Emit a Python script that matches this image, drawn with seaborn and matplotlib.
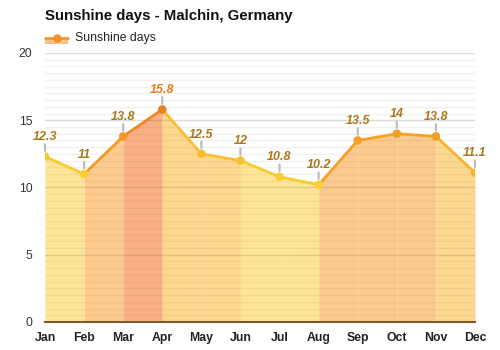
import matplotlib
matplotlib.use("Agg")
import matplotlib.pyplot as plt
from matplotlib.lines import Line2D
from matplotlib.patches import Rectangle
import numpy as np
import pandas as pd
import seaborn as sns

# Monthly sunshine days
months = ["Jan", "Feb", "Mar", "Apr", "May", "Jun",
          "Jul", "Aug", "Sep", "Oct", "Nov", "Dec"]
sunshine_days = [12.3, 11, 13.8, 15.8, 12.5, 12, 10.8, 10.2, 13.5, 14, 13.8, 11.1]
y_ticks = [0, 5, 10, 15, 20]

# colour classes (fill band between month i and i+1, line segment, point)
band_colors = ["#FEE596", "#FDCB8E", "#F9B085", "#FDD891", "#FDD891",
               "#FEE596", "#FEE596", "#FDCA8D", "#FDCA8D", "#FDCA8D", "#FDD891"]
seg_colors = ["#F8CB2E", "#F29B24", "#EE8523", "#FABD2F", "#FABF2F",
              "#F8CC2E", "#F8CC2E", "#F5A127", "#F5A127", "#F5A127", "#F8B42C"]
pt_colors = ["#F8C82E", "#F8D232", "#F09828", "#E97F1F", "#F9BC30", "#F9C230",
             "#F9CE31", "#F9D232", "#F3A026", "#F3A026", "#F3A026", "#F7B42D"]
label_colors = ["#A8781C"] * 12
label_colors[3] = "#E87B1C"

df = pd.DataFrame({"month": months, "idx": np.arange(len(months)),
                   "days": sunshine_days})

sns.set_style("white")
plt.rcParams["font.family"] = ["Liberation Sans", "DejaVu Sans"]

fig = plt.figure(figsize=(5, 3.5), dpi=100)
ax = fig.add_axes([0.09, 0.08, 0.86, 0.7686])

x = df["idx"].to_numpy()
y = df["days"].to_numpy()

# filled bands under each segment
for i in range(len(x) - 1):
    ax.fill_between(x[i:i + 2], 0, y[i:i + 2], color=band_colors[i],
                    lw=0, zorder=1)

# grid lines drawn over the fill
ax.set_ylim(0, 20)
ax.set_xlim(0, 11)
for v in np.arange(0.5, 20.01, 0.5):
    major = abs(v / 5 - round(v / 5)) < 1e-9
    ax.axhline(v, color=(0.45, 0.38, 0.25), alpha=0.22 if major else 0.08,
               lw=1.0, zorder=2)

# coloured line segments
for i in range(len(x) - 1):
    ax.plot(x[i:i + 2], y[i:i + 2], color=seg_colors[i], lw=2,
            solid_capstyle="round", zorder=3)

sns.scatterplot(data=df, x="idx", y="days", hue="month", palette=pt_colors,
                s=38, edgecolor="none", legend=False, zorder=4, ax=ax)

# value labels with short leader ticks
for xi, yi, c in zip(x, y, label_colors):
    ax.annotate("", xy=(xi, yi), xytext=(0, 8.8), textcoords="offset points",
                arrowprops=dict(arrowstyle="-", color="#BDBDBD", lw=1.6,
                                shrinkA=0, shrinkB=4.2),
                zorder=5, annotation_clip=False)
    ax.annotate(f"{yi:g}", xy=(xi, yi), xytext=(0, 9.6), textcoords="offset points",
                ha="center", va="bottom", fontsize=9, fontweight="bold",
                fontstyle="italic", color=c, zorder=6, annotation_clip=False)

# axes styling
sns.despine(ax=ax, left=True, top=True, right=True, bottom=False)
ax.spines["bottom"].set_color("#7A5C2A")
ax.spines["bottom"].set_linewidth(1.5)
ax.spines["bottom"].set_zorder(5)
ax.set_xticks(x)
ax.set_xticklabels(months, fontsize=8.8, fontweight="bold", color="#222222")
ax.set_yticks(y_ticks)
ax.set_yticklabels([str(t) for t in y_ticks], fontsize=8.8, color="#333333")
ax.tick_params(axis="x", length=0, pad=7)
ax.tick_params(axis="y", length=0, pad=9)
ax.set_xlabel("")
ax.set_ylabel("")
ax.grid(False)

# title and legend
fig.text(0.09, 0.953, "Sunshine days - Malchin, Germany", fontsize=10.8,
         fontweight="bold", color="#111111", ha="left", va="center")
fig.add_artist(Rectangle((0.09, 0.875), 0.046, 0.016, transform=fig.transFigure,
                         facecolor="#FBC08A", edgecolor="none"))
fig.add_artist(Line2D([0.09, 0.136], [0.891, 0.891], transform=fig.transFigure,
                      color="#F29B24", lw=2))
fig.add_artist(Line2D([0.113], [0.891], transform=fig.transFigure, marker="o",
                      markersize=5, color="#F0902A", lw=0))
fig.text(0.15, 0.891, "Sunshine days", fontsize=8.8, color="#222222",
         ha="left", va="center")

fig.savefig("out.png", dpi=100)
